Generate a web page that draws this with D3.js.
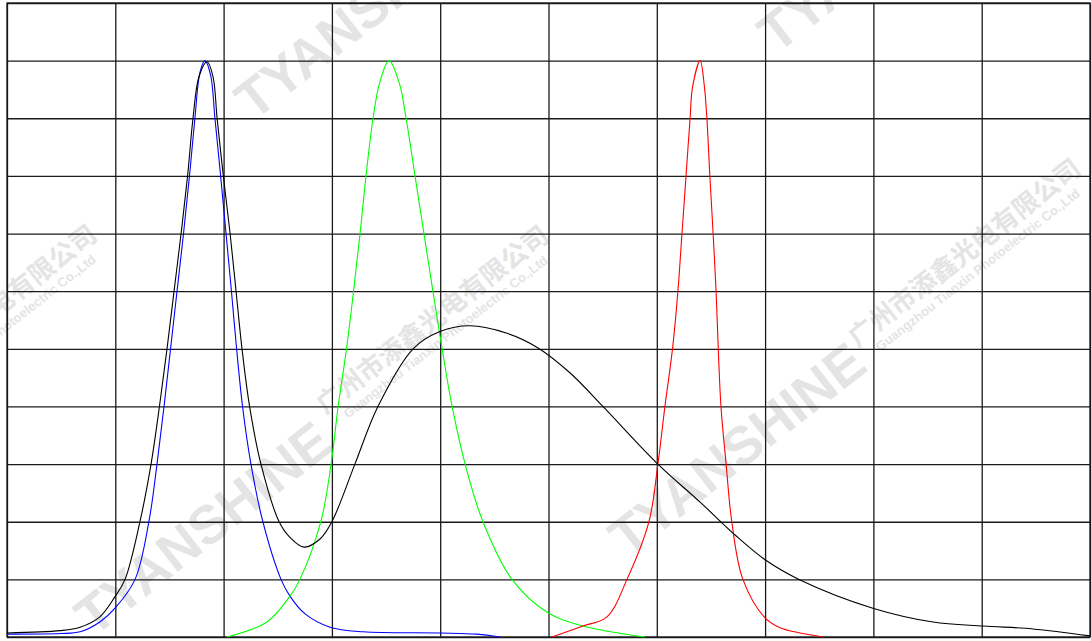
<!DOCTYPE html>
<html>
<head>
<meta charset="utf-8">
<script src="https://cdn.jsdelivr.net/npm/d3@7"></script>
<style>
html,body{margin:0;padding:0;background:#fff;}
svg{display:block;}
</style>
</head>
<body>
<svg id="chart" width="1091" height="641"></svg>
<script>
// ---- data (wavelength nm, relative intensity) ----
const xTicks = [380,420,460,500,540,580,620,660,700,740,780];
const yTicks = [0,0.1,0.2,0.3,0.4,0.5,0.6,0.7,0.8,0.9,1.0,1.1];

const blueWl  = [380,399.6,407.0,414.3,419.9,427.3,432.4,435.4,438.0,440.4,442.8,445.2,447.4,449.4,451.3,453.1,455.2,456.8,458.9,460.9,462.9,464.8,467.0,470.1,474.5,481.2,484.5,490.1,499.3,511.5,539.9,553.6,562.1];
const blueVal = [0.005,0.006,0.009,0.026,0.05,0.1,0.2,0.3,0.4,0.5,0.6,0.7,0.8,0.9,0.98,1.0,0.975,0.9,0.8,0.7,0.6,0.5,0.4,0.3,0.2,0.1,0.071,0.04,0.017,0.009,0.007,0.005,0.0];

const whiteWl  = [380,399.6,407.0,414.3,419.9,423.6,429.1,433.2,436.3,439.1,441.7,444.3,446.7,448.7,450.9,453.9,456.1,457.6,459.9,462.4,464.6,466.8,469.6,473.8,480.5,484.5,489.7,495.6,500.0,508.5,517.0,530.0,539.9,551.0,564.7,576.0,588.0,600.1,620.4,636.0,648.9,660.0,672.9,699.8,722.0,740.5,758.9,780];
const whiteVal = [0.007,0.011,0.017,0.035,0.07,0.1,0.2,0.3,0.4,0.5,0.6,0.7,0.8,0.9,0.972,0.998,0.972,0.9,0.8,0.7,0.6,0.5,0.4,0.3,0.2,0.173,0.156,0.17,0.2,0.3,0.4,0.5,0.53,0.54,0.527,0.502,0.458,0.4,0.3,0.234,0.177,0.134,0.099,0.05,0.026,0.019,0.014,0.002];

const greenWl  = [461.3,476.0,484.5,488.2,495.9,499.7,502.3,505.4,508.0,510.4,512.6,515.2,517.6,521.1,524.9,527.4,530.7,534.0,537.3,540.7,544.4,549.2,555.8,566.5,579.8,592.7,615.6];
const greenVal = [0.0,0.026,0.071,0.1,0.2,0.3,0.4,0.5,0.6,0.7,0.8,0.9,0.961,1.0,0.961,0.9,0.8,0.7,0.6,0.5,0.4,0.3,0.2,0.1,0.042,0.019,0.0];

const redWl  = [581.3,592.7,601.6,609.0,617.1,620.4,623.0,625.8,627.8,629.3,630.8,632.3,633.2,636.0,637.6,638.5,639.6,640.8,641.9,642.7,643.7,645.6,647.7,651.8,660.0,665.5,672.9,681.4];
const redVal = [0.0,0.019,0.035,0.1,0.2,0.3,0.4,0.5,0.6,0.7,0.8,0.9,0.954,1.0,0.954,0.9,0.8,0.7,0.6,0.5,0.4,0.3,0.2,0.1,0.033,0.016,0.007,0.0];

const series = [
  {name:"blue",  wl: blueWl,  val: blueVal,  color:"#0000ff"},
  {name:"green", wl: greenWl, val: greenVal, color:"#00ff00"},
  {name:"red",   wl: redWl,   val: redVal,   color:"#ff0000"},
  {name:"white", wl: whiteWl, val: whiteVal, color:"#000000"}
];

const wmBrand = "TYANSHINE";
const wmCn = "广州市添鑫光电有限公司";
const wmEn = "Guangzhou Tianxin Photoelectric Co.,Ltd";

// ---- layout ----
const svg = d3.select("#chart");
const L = 7, R = 1090, T = 3, B = 637;
const x = d3.scaleLinear().domain([380,780]).range([L,R]);
const y = d3.scaleLinear().domain([0,1.1]).range([B,T]);

// watermarks
const wm = svg.append("g").attr("fill","#e4e4e4");
const brandPos = [[203,528],[737,449],[363,12],[886,-55]];
brandPos.forEach(p=>{
  wm.append("text").attr("transform",`translate(${p[0]},${p[1]}) rotate(-38)`)
    .attr("text-anchor","middle").attr("dominant-baseline","central")
    .attr("font-family","Liberation Sans, Arial, sans-serif").attr("font-weight","bold")
    .attr("font-size",54).text(wmBrand);
});
const cnPos = [[-14,326],[438,327],[970,260]];
cnPos.forEach(p=>{
  const g = wm.append("g").attr("transform",`translate(${p[0]},${p[1]}) rotate(-38)`);
  g.append("text").attr("text-anchor","middle").attr("y",0)
    .attr("font-family","Noto Sans CJK SC, sans-serif").attr("font-weight","bold")
    .attr("font-size",26).text(wmCn);
  g.append("text").attr("text-anchor","middle").attr("y",17)
    .attr("font-family","Liberation Sans, Arial, sans-serif").attr("font-weight","bold")
    .attr("font-size",13).text(wmEn);
});

// grid
const gx = svg.append("g").attr("transform",`translate(0,${B})`)
  .call(d3.axisBottom(x).tickValues(xTicks).tickSize(-(B-T)).tickFormat(""));
const gy = svg.append("g").attr("transform",`translate(${L},0)`)
  .call(d3.axisLeft(y).tickValues(yTicks).tickSize(-(R-L)).tickFormat(""));
[gx,gy].forEach(g=>{
  g.select(".domain").remove();
  g.selectAll(".tick line").attr("stroke","#1a1a1a").attr("stroke-width",1.3);
});
svg.append("rect").attr("x",L).attr("y",T).attr("width",R-L).attr("height",B-T)
  .attr("fill","none").attr("stroke","#1a1a1a").attr("stroke-width",1.3);

// curves
const line = d3.line().x(d=>x(d[0])).y(d=>y(Math.max(0,d[1]))).curve(d3.curveCatmullRom.alpha(0.5));
series.forEach(s=>{
  const pts = s.wl.map((w,i)=>[w,s.val[i]]);
  svg.append("path").datum(pts).attr("d",line)
    .attr("fill","none").attr("stroke",s.color).attr("stroke-width",1.1);
});
</script>
</body>
</html>
